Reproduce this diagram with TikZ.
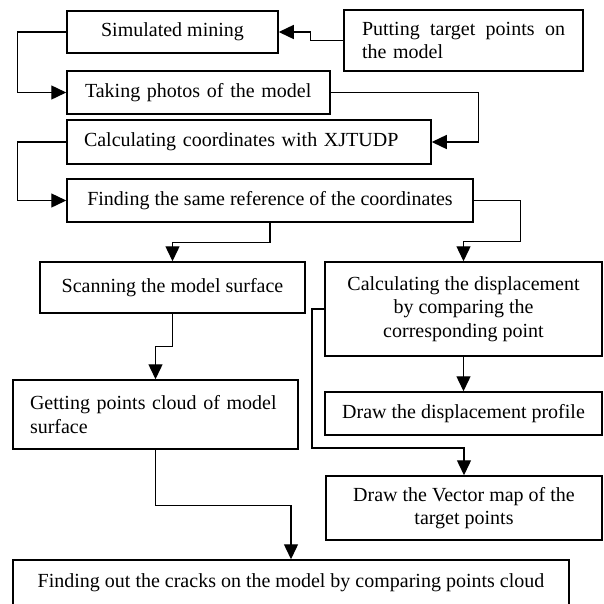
\documentclass[tikz,border=0pt]{standalone}
\usepackage{fontspec}
\setmainfont{Liberation Serif}
\usetikzlibrary{arrows.meta}
\tikzset{
  box/.style={draw, line width=1.5pt, inner sep=0pt, align=center,
    font=\fontsize{20}{23.3}\selectfont},
  conn/.style={line width=1.4pt, -{Triangle[length=15pt,width=14pt]}},
}
\begin{document}
\begin{tikzpicture}[x=1pt,y=-1pt]
\useasboundingbox (0,0) rectangle (604,603);
\node[box, minimum width=211pt, minimum height=42pt] (sim) at (172.5,32) {Simulated mining};
\node[box, minimum width=239pt, minimum height=61pt, text width=203pt, align=left] (put) at (463.5,40.5)
  {\makebox[203pt][s]{Putting\hfill target\hfill points\hfill on}\\the model};
\node[box, minimum width=263pt, minimum height=43pt, text width=227pt, align=left] (take) at (198.5,92.5)
  {Taking photos of the model};
\node[box, minimum width=364pt, minimum height=44pt, text width=330pt, align=left] (calc) at (249,142)
  {Calculating coordinates with XJTUDP};
\node[box, minimum width=406pt, minimum height=43pt] (find) at (270,200.5)
  {Finding the same reference of the coordinates};
\node[box, minimum width=265pt, minimum height=51pt] (scan) at (172.5,287.5)
  {Scanning the model surface};
\node[box, minimum width=277pt, minimum height=94pt] (disp) at (463.5,309)
  {Calculating the displacement\\by comparing the\\corresponding point};
\node[box, minimum width=285pt, minimum height=69pt, text width=251pt, align=left] (get) at (155.5,414.5)
  {Getting points cloud of model\\surface};
\node[box, minimum width=277pt, minimum height=43pt] (prof) at (463.5,413.5)
  {Draw the displacement profile};
\node[box, minimum width=276pt, minimum height=64pt] (vec) at (464,508)
  {Draw the Vector map of the\\target points};
\node[box, minimum width=556pt, minimum height=46pt] (crack) at (291,583)
  {Finding out the cracks on the model by comparing points cloud};

\draw[conn] (put.west) -- ++(-33,0) |- (sim.east);
\draw[conn] (sim.west) -- ++(-49,0) |- (take.west);
\draw[conn] (take.east) -- ++(148,0) |- (calc.east);
\draw[conn] (calc.west) -- ++(-49,0) |- (find.west);
\draw[conn] (find.south) -- ++(0,19.5) -| (scan.north);
\draw[conn] (find.east) -- ++(47,0) -- ++(0,41) -| (disp.north);
\draw[conn] (scan.south) -- ++(0,33) -| (get.north);
\draw[conn] (disp.south) -- (prof.north);
\draw[conn] (disp.west) -- ++(-12.3,0) -- ++(0,139) -| (vec.north);
\draw[conn] (get.south) -- ++(0,56) -| (crack.north);
\end{tikzpicture}
\end{document}
